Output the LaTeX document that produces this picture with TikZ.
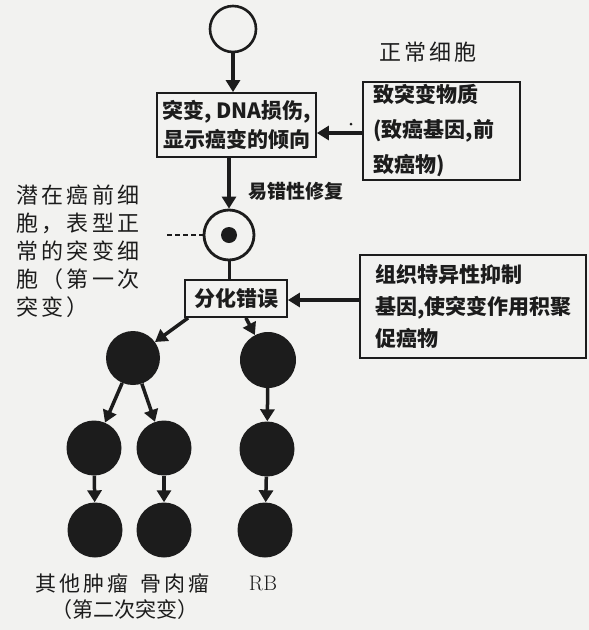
\documentclass[tikz,border=0pt]{standalone}
\usepackage{fontspec}
\usetikzlibrary{arrows.meta,calc}
\newfontfamily\cjk{Noto Sans CJK SC}
\newfontfamily\cjkw{Noto Sans CJK SC}[LetterSpace=15]
\definecolor{ink}{HTML}{1C1C1C}
\definecolor{paper}{HTML}{F2F2F0}
\tikzset{
  box/.style={draw=ink, line width=1.8pt, rectangle, inner sep=0pt, text=ink},
  boxfont/.style={font=\cjk\bfseries\fontsize{21}{#1}\selectfont},
  arr/.style={ink, line width=3.5pt, -{Triangle[width=14pt,length=12pt]}},
  dark/.style={circle, fill=ink, minimum size=55pt, inner sep=0pt},
  lbl/.style={text=ink, inner sep=0pt}
}
\begin{document}
\begin{tikzpicture}[x=1pt,y=-1pt]
\fill[paper] (0,0) rectangle (589,630);
\useasboundingbox (0,0) rectangle (589,630);

% top normal cell
\node[circle, draw=ink, line width=2.6pt, minimum size=46pt, inner sep=0pt] (c0) at (233,29) {};
\node[lbl, font=\cjkw\fontsize{22}{26}\selectfont] (normal) at (428,52) {正常细胞};

% boxes
\node[box, boxfont=29, minimum width=159pt, minimum height=64pt, align=center] (b1) at (236.5,125) {突变, DNA损伤,\\显示癌变的倾向};
\node[box, boxfont=35, minimum width=157pt, minimum height=98pt, align=left, text width=136pt] (b2) at (441.5,131) {致突变物质\\(致癌基因,前\\致癌物)};
\node[box, boxfont=26, minimum width=102pt, minimum height=37pt] (b3) at (236,298.5) {分化错误};
\node[box, boxfont=32, minimum width=226pt, minimum height=103pt, align=left, text width=196pt] (b4) at (473,306.5) {组织特异性抑制\\基因,使突变作用积聚\\促癌物};

% premalignant cell
\node[circle, draw=ink, line width=2.8pt, minimum size=50pt, inner sep=0pt] (c2) at (229,235) {};
\node[circle, fill=ink, minimum size=16pt, inner sep=0pt] (c2d) at (c2) {};
\coordinate (dl) at (167,235);
\draw[ink, line width=1.8pt, dash pattern=on 5pt off 3pt] (dl) -- (c2.west);

\node[lbl, font=\cjkw\fontsize{22}{28}\selectfont, align=left] (lt) at (78,251) {潜在癌前细\\胞，表型正\\常的突变细\\胞（第一次\\突变）};
\node[lbl, font=\cjk\bfseries\fontsize{19}{22}\selectfont] (rep) at (296,191) {易错性修复};

% main flow
\draw[arr] (c0.south) -- (c0.south |- b1.north);
\draw[arr] (c2 |- b1.south) -- (c2.north);
\draw[ink, line width=3pt] (c2.south) -- (c2.south |- b3.north);
\draw[arr] ([yshift=-2pt]b2.west) -- ([yshift=-2pt]b2.west -| b1.east);
\fill[ink] (351,124) circle (1.5pt);
\draw[arr] ([yshift=6.5pt]b4.west) -- ([yshift=6.5pt]b4.west -| b3.east);

% tumour cells
\node[dark, minimum size=54pt] (d1) at (133,358) {};
\node[dark, minimum size=56pt] (r1) at (268,360) {};
\node[dark] (d2a) at (94,448) {};
\node[dark] (d2b) at (164,448) {};
\node[dark] (r2) at (267,449) {};
\node[dark] (d3a) at (95,530) {};
\node[dark] (d3b) at (164,530) {};
\node[dark] (r3) at (265,530) {};

\draw[arr] ([xshift=4pt]b3.south west) -- (d1);
\draw[arr] ([xshift=-42pt]b3.south east) -- (r1);
\draw[arr] (d1) -- (d2a);
\draw[arr] (d1) -- (d2b);
\draw[arr] (r1) -- (r2);
\draw[arr] (d2a) -- (d3a);
\draw[arr] (d2b) -- (d3b);
\draw[arr] (r2) -- (r3);

% bottom labels
\node[lbl, font=\cjkw\fontsize{21}{24}\selectfont] (l1) at (82,583) {其他肿瘤};
\node[lbl, font=\cjkw\fontsize{21}{24}\selectfont] (l2) at (175,583) {骨肉瘤};
\node[lbl, font=\rmfamily\fontsize{21}{24}\selectfont] (l3) at (263,583) {RB};
\node[lbl, font=\cjk\fontsize{21}{24}\selectfont] (l4) at (125,610) {（第二次突变）};
\end{tikzpicture}
\end{document}
